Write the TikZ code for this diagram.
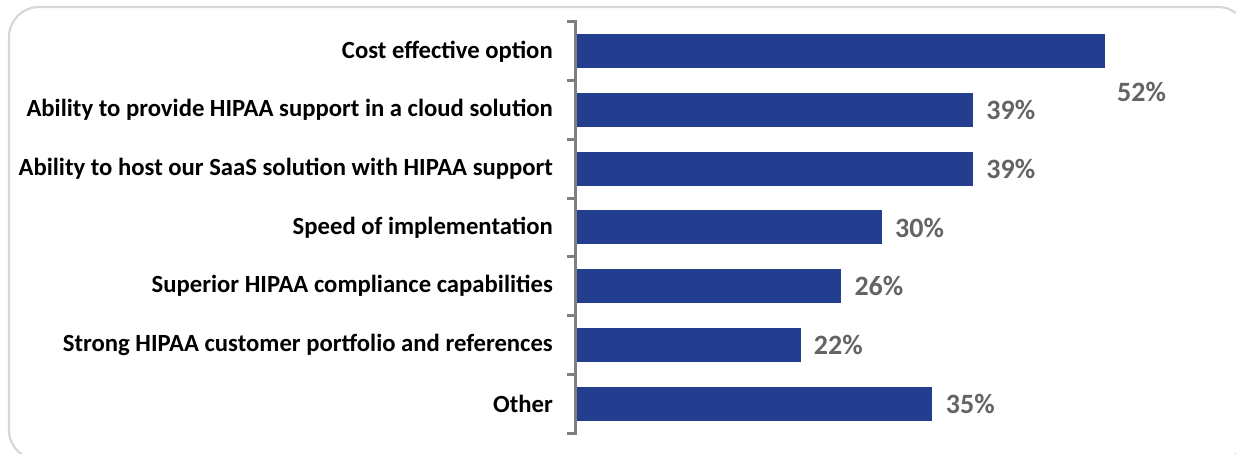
\documentclass[tikz,border=0pt]{standalone}
\usepackage{fontspec}
\setmainfont{Carlito}
\definecolor{barblue}{RGB}{35,62,143}
\definecolor{axisgray}{RGB}{128,128,128}
\definecolor{valgray}{RGB}{100,100,100}
\definecolor{framegray}{RGB}{215,215,215}
\begin{document}
\begin{tikzpicture}[x=1pt,y=-1pt,
  bar/.style={fill=barblue,draw=none,inner sep=0pt,minimum height=34pt,anchor=west},
  cat/.style={anchor=east,inner sep=0pt,font=\fontsize{24.7}{28}\selectfont\bfseries,text=black},
  val/.style={anchor=west,inner sep=0pt,font=\fontsize{28}{32}\selectfont\bfseries,text=valgray}]
\useasboundingbox (0,0) rectangle (1236,454);
\begin{scope}
\clip (0,0) rectangle (1236,454);
\draw[framegray,line width=2.2pt,rounded corners=30pt] (9,7) rectangle (1248,460);
\end{scope}
% axis
\draw[axisgray,line width=3pt] (575,22) -- (575,433);
\foreach \k in {0,...,7}{\draw[axisgray,line width=3pt] (567,22+58.714*\k) -- (576.5,22+58.714*\k);}
% bars
\def\u{10.15}
\node[bar,minimum width=52*\u pt] (b1) at (577,51.4) {};
\node[bar,minimum width=39*\u pt] (b2) at (577,110.1) {};
\node[bar,minimum width=39*\u pt] (b3) at (577,168.8) {};
\node[bar,minimum width=30*\u pt] (b4) at (577,227.5) {};
\node[bar,minimum width=26*\u pt] (b5) at (577,286.2) {};
\node[bar,minimum width=22*\u pt] (b6) at (577,345.0) {};
\node[bar,minimum width=35*\u pt] (b7) at (577,403.7) {};
% category labels
\node[cat] (c1) at (553,51.4) {Cost effective option};
\node[cat] (c2) at (553,110.1) {Ability to provide HIPAA support in a cloud solution};
\node[cat] (c3) at (553,168.8) {Ability to host our SaaS solution with HIPAA support};
\node[cat] (c4) at (553,227.5) {Speed of implementation};
\node[cat] (c5) at (553,286.2) {Superior HIPAA compliance capabilities};
\node[cat] (c6) at (553,345.0) {Strong HIPAA customer portfolio and references};
\node[cat] (c7) at (553,403.7) {Other};
% values
\node[val] (v1) at (1117,92) {52\%};
\node[val] (v2) at ([xshift=13pt]b2.east) {39\%};
\node[val] (v3) at ([xshift=13pt]b3.east) {39\%};
\node[val] (v4) at ([xshift=13pt]b4.east) {30\%};
\node[val] (v5) at ([xshift=13pt]b5.east) {26\%};
\node[val] (v6) at ([xshift=13pt]b6.east) {22\%};
\node[val] (v7) at ([xshift=13pt]b7.east) {35\%};
\end{tikzpicture}
\end{document}
